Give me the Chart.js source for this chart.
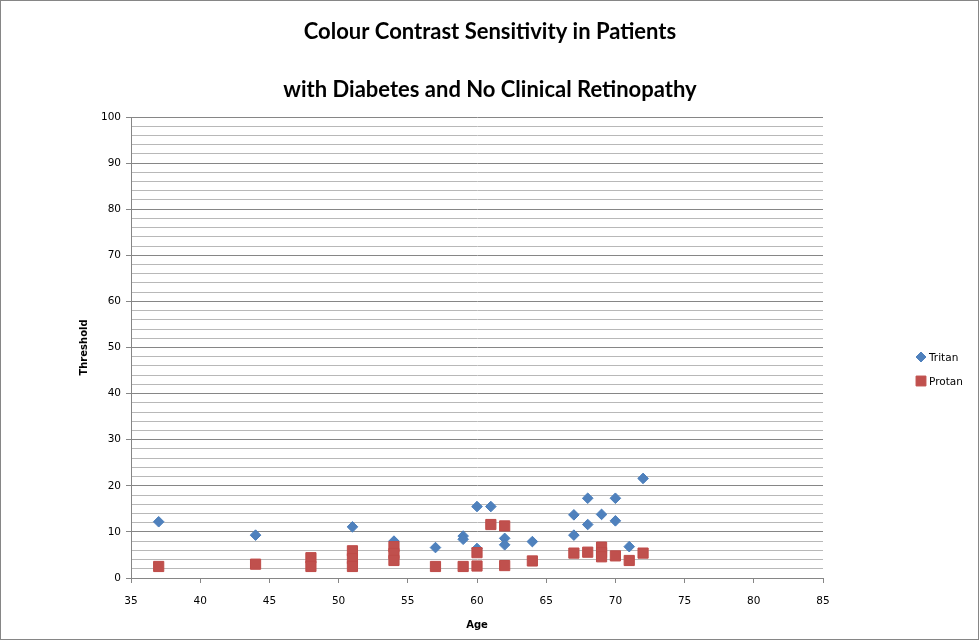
<!DOCTYPE html>
<html>
<head>
<meta charset="utf-8">
<script src="https://cdn.jsdelivr.net/npm/chart.js@4"></script>
<style>
  html, body { margin: 0; padding: 0; background: #fff; }
  #chart { display: block; }
</style>
</head>
<body>
<canvas id="chart" width="980" height="641"></canvas>
<script>
// Age and threshold readings
const tritanAge = [37, 44, 51, 54, 57, 59, 59, 60, 60, 61, 62, 62, 64, 67, 67, 68, 68, 69, 70, 70, 71, 72];
const tritanValue = [12.2, 9.3, 11.1, 8.0, 6.6, 9.1, 8.4, 15.5, 6.4, 15.5, 8.6, 7.2, 7.9, 13.7, 9.3, 17.3, 11.6, 13.8, 17.3, 12.4, 6.8, 21.6];

const protanAge = [37, 44, 48, 48, 51, 51, 51, 54, 54, 54, 57, 59, 60, 60, 61, 62, 62, 64, 67, 68, 69, 69, 69, 70, 71, 72];
const protanValue = [2.5, 3.0, 4.4, 2.5, 5.9, 4.2, 2.5, 6.8, 5.3, 3.8, 2.5, 2.5, 5.5, 2.6, 11.6, 11.3, 2.7, 3.7, 5.4, 5.6, 6.7, 5.5, 4.6, 4.8, 3.8, 5.4];

const seriesNames = ['Tritan', 'Protan'];
const titleLines = ['Colour Contrast Sensitivity in Patients', 'with Diabetes and No Clinical Retinopathy'];

function toPoints(xs, ys) {
    return xs.map((x, i) => ({ x: x, y: ys[i] }));
}

const tickFont = { family: 'DejaVu Sans', size: 10.5 };
const axisTitleFont = { family: 'DejaVu Sans', size: 10, weight: 'bold' };

// Legend and frame drawn by hand so they sit where the original has them
const legendAndFrame = {
    id: 'legendAndFrame',
    afterDraw(chart) {
        const ctx = chart.ctx;
        ctx.save();
        ctx.strokeStyle = '#868686';
        ctx.lineWidth = 1;
        ctx.strokeRect(0.5, 0.5, 978, 639);

        const items = [
            { label: chart.data.datasets[0].label, style: 'rectRot', color: '#4F81BD', r: 5, y: 357 },
            { label: chart.data.datasets[1].label, style: 'rect', color: '#C0504D', r: 7, y: 381 }
        ];
        ctx.font = '10.5px "DejaVu Sans"';
        ctx.textBaseline = 'middle';
        ctx.textAlign = 'left';
        items.forEach(item => {
            ctx.fillStyle = item.color;
            ctx.strokeStyle = item.color;
            Chart.helpers.drawPoint(ctx, { pointStyle: item.style, radius: item.r, borderWidth: 1 }, 921, item.y);
            ctx.fillStyle = '#000';
            ctx.fillText(item.label, 929, item.y + 1);
        });
        ctx.restore();
    }
};

const ctx = document.getElementById('chart').getContext('2d');

new Chart(ctx, {
    type: 'scatter',
    data: {
        datasets: [{
            label: seriesNames[0],
            data: toPoints(tritanAge, tritanValue),
            pointStyle: 'rectRot',
            pointRadius: 5.3,
            backgroundColor: '#4F81BD',
            borderColor: '#4A7EBB',
            borderWidth: 1,
            order: 1
        }, {
            label: seriesNames[1],
            data: toPoints(protanAge, protanValue),
            pointStyle: 'rect',
            pointRadius: 7.2,
            backgroundColor: '#C0504D',
            borderColor: '#BE4B48',
            borderWidth: 1,
            order: 0
        }]
    },
    options: {
        responsive: false,
        animation: false,
        layout: { padding: 0 },
        plugins: {
            legend: { display: false },
            tooltip: { enabled: false },
            title: {
                display: true,
                text: titleLines,
                color: '#000',
                font: { family: 'Lato', size: 22, weight: 'bold', lineHeight: 58 / 22 },
                padding: { top: 3, bottom: -2 }
            }
        },
        scales: {
            x: {
                type: 'linear',
                min: 35,
                max: 85,
                ticks: { stepSize: 5, color: '#000', font: tickFont, padding: 12 },
                grid: { drawOnChartArea: false, drawTicks: true, tickLength: 5, color: '#868686' },
                border: { color: '#868686' },
                title: { display: true, text: 'Age', color: '#000', font: axisTitleFont, padding: { top: 10, bottom: 10 } },
                afterFit(scale) { scale.height = 63; }
            },
            y: {
                min: 0,
                max: 100,
                ticks: {
                    stepSize: 2,
                    autoSkip: false,
                    color: '#000',
                    font: tickFont,
                    padding: 5,
                    callback: v => (v % 10 === 0 ? v : '')
                },
                grid: {
                    tickLength: 5,
                    color: c => (c.tick && c.tick.value % 10 === 0 ? '#868686' : '#B8B8B8'),
                    tickColor: c => (c.tick && c.tick.value % 10 === 0 ? '#868686' : 'rgba(0,0,0,0)')
                },
                border: { color: '#868686' },
                title: { display: true, text: 'Threshold', color: '#000', font: axisTitleFont, padding: { top: 78, bottom: 78 } },
                afterFit(scale) { scale.width = 131; }
            },
            // empty right-hand strip that holds the legend space
            legendSpace: {
                type: 'linear',
                position: 'right',
                min: 0,
                max: 100,
                ticks: { display: false },
                grid: { display: false, drawOnChartArea: false },
                border: { display: false },
                afterFit(scale) { scale.width = 157; }
            }
        }
    },
    plugins: [legendAndFrame]
});
</script>
</body>
</html>
